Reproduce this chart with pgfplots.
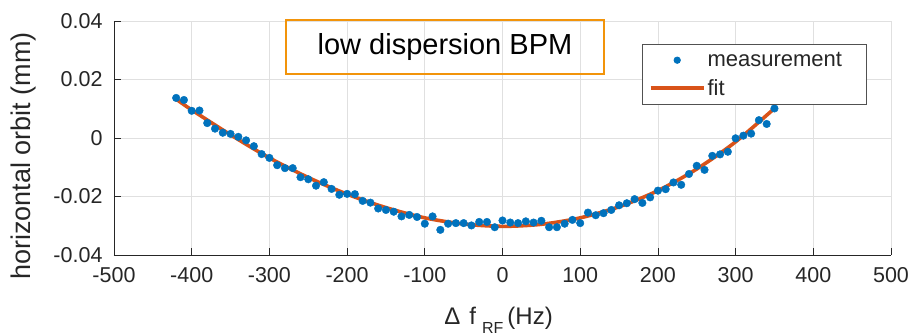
\documentclass[border=0pt]{standalone}
\usepackage{fontspec}
\setmainfont{Liberation Sans}
\usepackage{pgfplots}
\pgfplotsset{compat=1.18}
\definecolor{mblue}{RGB}{0,114,189}
\definecolor{morange}{RGB}{217,83,25}
\definecolor{boxorange}{RGB}{242,148,10}
\definecolor{axgray}{RGB}{38,38,38}
\pgfplotsset{
  dotleg/.style={legend image code/.code={\draw[##1,mark size=3.2pt,mark repeat=2,mark phase=2] plot coordinates {(0pt,0pt)(26.5pt,0pt)(53pt,0pt)};}},
  lineleg/.style={legend image code/.code={\draw[##1] (0pt,0pt) -- (53pt,0pt);}},
}
\begin{document}
\begin{tikzpicture}
\begin{axis}[name=ax, scale only axis, width=777pt, height=234pt, clip=false,
  xmin=-500, xmax=500, ymin=-0.04, ymax=0.04,
  xtick={-500,-400,-300,-200,-100,0,100,200,300,400,500},
  xticklabels={-500,-400,-300,-200,-100,0,100,200,300,400,500},
  ytick={-0.04,-0.02,0,0.02,0.04},
  yticklabels={-0.04,-0.02,0,0.02,0.04},
  scaled y ticks=false, scaled x ticks=false,
  axis x line*=bottom, axis y line*=left,
  axis line style={-, draw=axgray, line width=0.8pt},
  tick align=inside, major tick length=7pt,
  tick style={axgray, line width=0.8pt},
  xtick pos=bottom, ytick pos=left,
  grid=major, major grid style={black!12, line width=0.8pt},
  ticklabel style={font=\fontsize{21.5}{21.5}\selectfont, text=axgray},
  xticklabel style={yshift=-9pt},
  yticklabel style={xshift=-8pt},
  xlabel={Δ\hspace{9pt}f\hspace{6pt}\raisebox{-9pt}{\fontsize{16}{16}\selectfont RF}\hspace{4pt}(Hz)},
  xlabel style={at={(axis description cs:0.495,-0.295)}, anchor=base, font=\fontsize{24}{24}\selectfont, text=axgray},
  ylabel={horizontal orbit (mm)},
  ylabel style={at={(axis description cs:-0.116,0.423)}, anchor=center, font=\fontsize{27}{27}\selectfont, text=axgray},
  legend style={at={(rel axis cs:0.969,0.902)}, anchor=north east, draw=axgray!80, fill=white, line width=0.8pt,
    font=\fontsize{22}{22}\selectfont, text=axgray, inner xsep=7pt, inner ysep=6pt, row sep=7pt},
  legend cell align=left,
]
\addplot[only marks, mark=*, mark size=3.8pt, color=mblue, mark options={fill=mblue, draw=mblue}, dotleg]
coordinates {
(-420,0.0137)(-410,0.0130)(-400,0.0093)(-390,0.0094)(-380,0.0051)(-370,0.0032)(-360,0.0018)(-350,0.0014)
(-340,0.0004)(-330,-0.0008)(-320,-0.0028)(-310,-0.0055)(-300,-0.0068)(-290,-0.0093)(-280,-0.0103)(-270,-0.0103)
(-260,-0.0134)(-250,-0.0141)(-240,-0.0163)(-230,-0.0151)(-220,-0.0174)(-210,-0.0194)(-200,-0.0191)(-190,-0.0192)
(-180,-0.0215)(-170,-0.0221)(-160,-0.0241)(-150,-0.0246)(-140,-0.0252)(-130,-0.0268)(-120,-0.0263)(-110,-0.0270)
(-100,-0.0293)(-90,-0.0268)(-80,-0.0314)(-70,-0.0293)(-60,-0.0291)(-50,-0.0291)(-40,-0.0299)(-30,-0.0287)
(-20,-0.0287)(-10,-0.0305)(0,-0.0282)(10,-0.0289)(20,-0.0291)(30,-0.0285)(40,-0.0289)(50,-0.0283)
(60,-0.0305)(70,-0.0305)(80,-0.0293)(90,-0.0280)(100,-0.0291)(110,-0.0255)(120,-0.0264)(130,-0.0257)
(140,-0.0246)(150,-0.0230)(160,-0.0223)(170,-0.0209)(180,-0.0222)(190,-0.0203)(200,-0.0180)(210,-0.0175)
(220,-0.0152)(230,-0.0160)(240,-0.0123)(250,-0.0095)(260,-0.0109)(270,-0.0061)(280,-0.0056)(290,-0.0047)
(300,-0.0001)(310,0.0008)(320,0.0015)(330,0.0061)(340,0.0048)(350,0.0101)
};
\addlegendentry{\makebox[150pt][l]{measurement}}
\addplot[color=morange, line width=3.6pt, smooth, lineleg]
coordinates {
(-420,0.0133)(-400,0.0096)(-350,0.0011)(-300,-0.0068)(-250,-0.0135)(-200,-0.0192)(-150,-0.0238)
(-100,-0.0273)(-50,-0.0294)(0,-0.0302)(50,-0.0295)(100,-0.0273)(150,-0.0235)(200,-0.0180)
(250,-0.0106)(300,-0.0013)(352,0.0106)
};
\addlegendentry{fit}
\node[draw=boxorange, line width=1.5pt, minimum width=318pt, minimum height=54pt,
  font=\fontsize{29}{29}\selectfont, text=black] at (rel axis cs:0.426,0.889) {low dispersion BPM};
\end{axis}
\pgfresetboundingbox
\path[use as bounding box] ([xshift=-114pt,yshift=-80pt]ax.south west) rectangle ([xshift=20pt,yshift=21pt]ax.north east);
\end{tikzpicture}
\end{document}
